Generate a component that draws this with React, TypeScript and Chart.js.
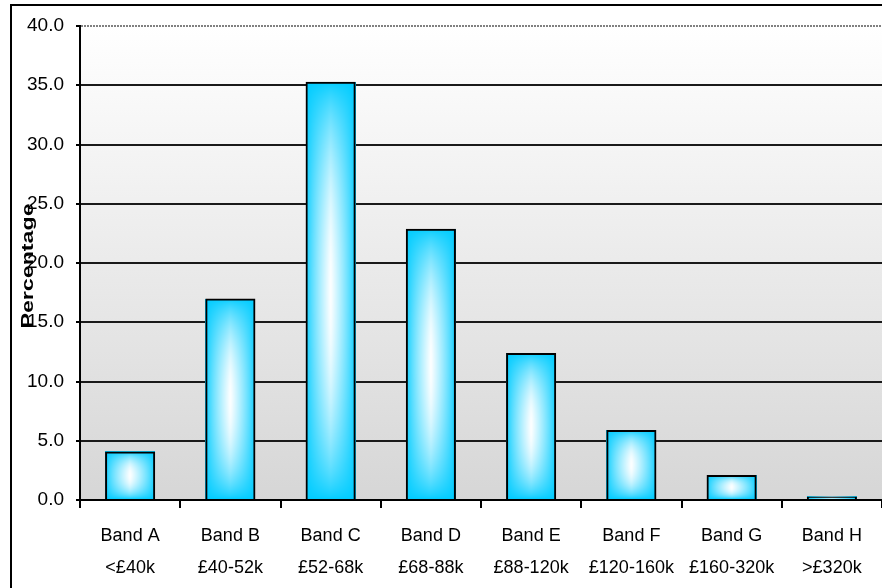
import React, { useEffect, useRef } from "react";
import { Chart, registerables } from "chart.js";

Chart.register(...registerables);

// Household income bands and the share of households in each
const bandNames = ["Band A", "Band B", "Band C", "Band D", "Band E", "Band F", "Band G", "Band H"];
const bandRanges = ["<£40k", "£40-52k", "£52-68k", "£68-88k", "£88-120k", "£120-160k", "£160-320k", ">£320k"];
const shares = [4.1, 17.0, 35.3, 22.9, 12.4, 5.9, 2.1, 0.3];
const yMin = 0;
const yMax = 40;
const yStep = 5;
const yTitle = "Percentage";

const W = 882;
const H = 588;
const FONT = '"Liberation Sans", Arial, sans-serif';
const CYAN = [0, 204, 255];

// Soft "from centre" gradient: white in the middle, cyan at the edges
function makeBarFill(w: number, h: number): HTMLCanvasElement {
  const c = document.createElement("canvas");
  const iw = Math.max(1, Math.round(w));
  const ih = Math.max(1, Math.round(h));
  c.width = iw;
  c.height = ih;
  const g = c.getContext("2d")!;
  const img = g.createImageData(iw, ih);
  const hw = iw / 2;
  const hh = ih / 2;
  for (let y = 0; y < ih; y++) {
    for (let x = 0; x < iw; x++) {
      const nx = Math.abs(x + 0.5 - hw) / hw;
      const ny = Math.abs(y + 0.5 - hh) / hh;
      const white = Math.pow(Math.max(0, (1 - nx) * (1 - ny * ny)), 0.75);
      const t = 1 - white;
      const i = (y * iw + x) * 4;
      img.data[i] = Math.round(255 + (CYAN[0] - 255) * t);
      img.data[i + 1] = Math.round(255 + (CYAN[1] - 255) * t);
      img.data[i + 2] = Math.round(255 + (CYAN[2] - 255) * t);
      img.data[i + 3] = 255;
    }
  }
  g.putImageData(img, 0, 0);
  return c;
}

const decorPlugin = {
  id: "decor",
  beforeDraw(chart: any) {
    const { ctx, chartArea: a } = chart;
    ctx.save();
    ctx.fillStyle = "#ffffff";
    ctx.fillRect(0, 0, chart.width, chart.height);
    // outer frame
    ctx.strokeStyle = "#000";
    ctx.lineWidth = 2;
    ctx.beginPath();
    ctx.moveTo(11, chart.height + 2);
    ctx.lineTo(11, 5);
    ctx.lineTo(chart.width + 2, 5);
    ctx.stroke();
    // plot area shading
    const grad = ctx.createLinearGradient(0, a.top, 0, a.bottom);
    grad.addColorStop(0, "#ffffff");
    grad.addColorStop(1, "#d6d6d6");
    ctx.fillStyle = grad;
    ctx.fillRect(a.left, a.top, a.right - a.left, a.bottom - a.top);
    ctx.restore();
  },
  beforeDatasetsDraw(chart: any) {
    const { ctx } = chart;
    const meta = chart.getDatasetMeta(0);
    ctx.save();
    meta.data.forEach((bar: any) => {
      const left = bar.x - bar.width / 2;
      const top = Math.min(bar.y, bar.base);
      const h = Math.abs(bar.base - bar.y);
      if (h < 1) return;
      ctx.drawImage(makeBarFill(bar.width, h), left, top, bar.width, h);
    });
    ctx.restore();
  },
  afterDraw(chart: any) {
    const { ctx, chartArea: a, scales } = chart;
    ctx.save();
    // dotted top boundary at the axis maximum
    const yTop = scales.y.getPixelForValue(yMax);
    ctx.strokeStyle = "#808080";
    ctx.lineWidth = 2;
    ctx.setLineDash([2, 1]);
    ctx.beginPath();
    ctx.moveTo(a.left + 1, yTop);
    ctx.lineTo(a.right, yTop);
    ctx.stroke();
    ctx.setLineDash([]);
    // rotated axis title
    const mid = (a.top + a.bottom) / 2;
    ctx.translate(29, mid + 3);
    ctx.rotate(-Math.PI / 2);
    ctx.scale(1.45, 1);
    ctx.fillStyle = "#000";
    ctx.font = 'bold 16px "Liberation Sans", Arial, sans-serif';
    ctx.textAlign = "center";
    ctx.textBaseline = "middle";
    ctx.fillText(yTitle, 0, 0);
    ctx.restore();
  },
};

export default function App() {
  const ref = useRef<HTMLCanvasElement | null>(null);

  useEffect(() => {
    document.documentElement.style.overflow = "hidden";
    document.body.style.overflow = "hidden";
    const canvas = ref.current!;
    const labels = bandNames.map((n, i) => [n, bandRanges[i]]);
    const chart = new Chart(canvas, {
      type: "bar",
      data: {
        labels,
        datasets: [
          {
            data: shares,
            backgroundColor: "rgba(0,0,0,0)",
            borderColor: "#000",
            borderWidth: 2,
            borderSkipped: "bottom",
            barPercentage: 0.5,
            categoryPercentage: 1,
          },
        ],
      },
      options: {
        responsive: false,
        animation: false,
        layout: { padding: { top: 26, right: 0, bottom: 0, left: 0 } },
        plugins: {
          legend: { display: false },
          tooltip: { enabled: false },
          title: { display: false },
        },
        scales: {
          x: {
            grid: {
              offset: true,
              drawOnChartArea: false,
              drawTicks: true,
              tickLength: 8,
              color: "#000",
              lineWidth: 2,
            },
            border: { color: "#000", width: 2 },
            ticks: {
              color: "#000",
              font: { family: FONT, size: 18, lineHeight: 1.78 },
              padding: 12,
              maxRotation: 0,
              autoSkip: false,
            },
            afterFit(s: any) {
              s.height = 88;
            },
          },
          y: {
            min: yMin,
            max: yMax,
            ticks: {
              stepSize: yStep,
              color: "#000",
              font: { family: FONT, size: 19 },
              padding: 12,
              callback: (v: any) => Number(v).toFixed(1),
            },
            grid: {
              color: (c: any) => (c.tick && c.tick.value === yMax ? "rgba(0,0,0,0)" : "#1a1a1a"),
              tickColor: "#000",
              lineWidth: 2,
              tickLength: 4,
            },
            border: { color: "#000", width: 2 },
            afterFit(s: any) {
              s.width = 80;
            },
          },
        },
      },
      plugins: [decorPlugin],
    });
    return () => chart.destroy();
  }, []);

  return (
    <div style={{ position: "absolute", left: 0, top: 0, width: W, height: H }}>
      <canvas ref={ref} width={W} height={H} style={{ width: W, height: H, display: "block" }} />
    </div>
  );
}
